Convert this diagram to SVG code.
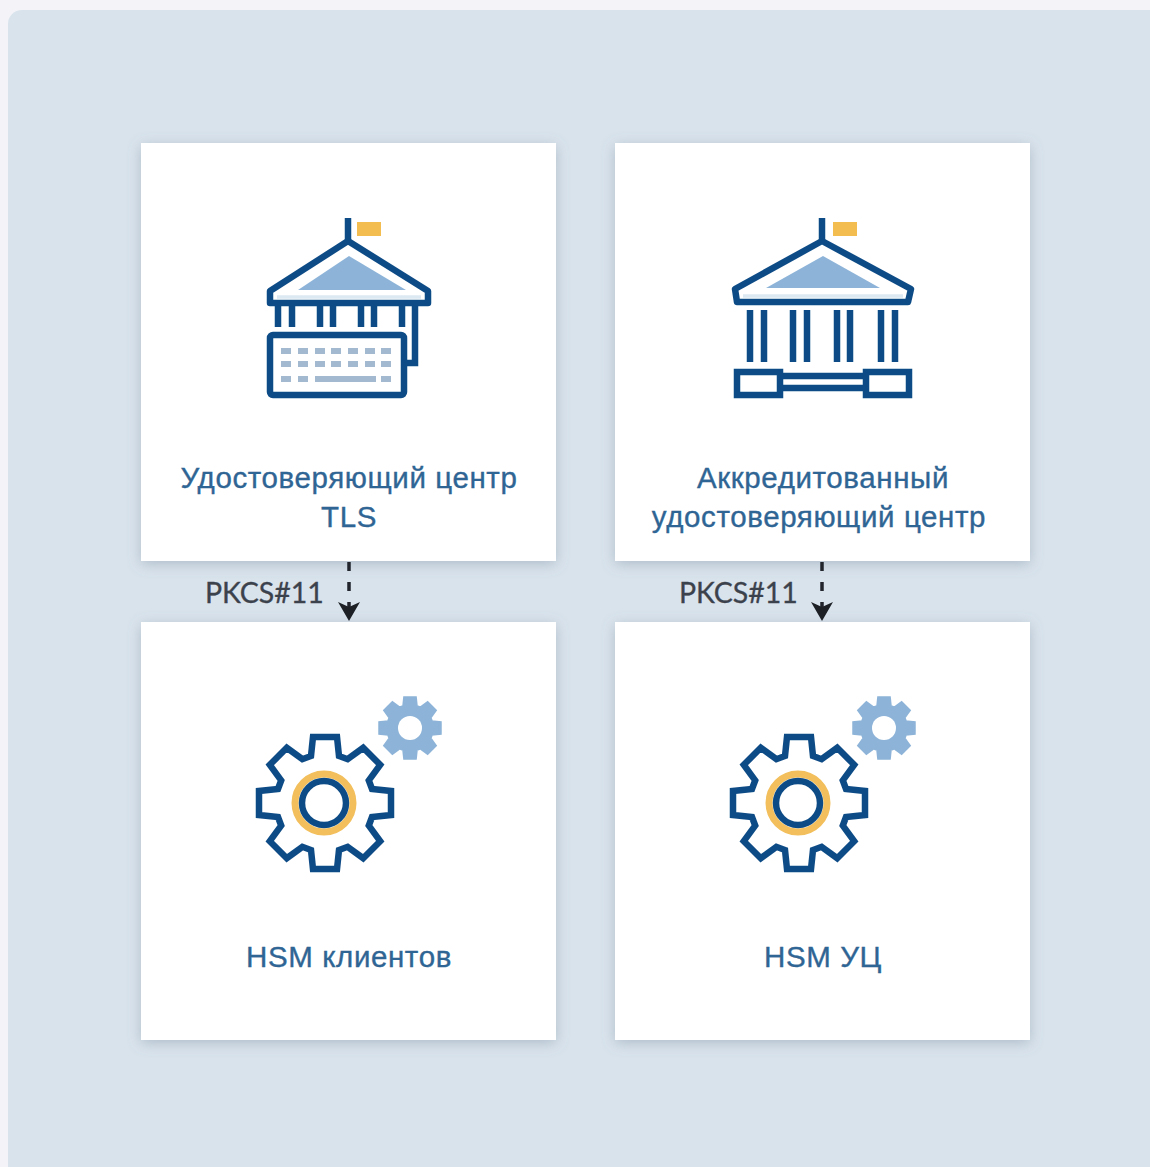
<svg xmlns="http://www.w3.org/2000/svg" width="1150" height="1167" viewBox="0 0 1150 1167">
<style>
.card{fill:#fff;filter:url(#shadow)}
.ln{fill:none;stroke:#0f4c86;stroke-width:6.500}
.lt{fill:#8db4d8}
.fl{fill:#f4bd50}
.key{fill:#a3b9cf}
.lbl{font-family:"Liberation Sans",Arial,sans-serif;font-size:29.500px;fill:#2f6594;stroke:#2f6594;stroke-width:.35px;text-anchor:middle;letter-spacing:.6px}
.pk{font-family:Lato,"Liberation Sans",sans-serif;font-size:28.500px;fill:#3c424c;stroke:#3c424c;stroke-width:.3px}
.conn{fill:none;stroke:#22262c;stroke-width:3.500;stroke-dasharray:9 11}
</style>
<defs>
<filter id="shadow" x="-10%" y="-10%" width="120%" height="120%"><feDropShadow dx="0" dy="3" stdDeviation="7" flood-color="#6d8296" flood-opacity=".4"/></filter>
<filter id="soft" x="-5%" y="-5%" width="110%" height="110%"><feGaussianBlur stdDeviation=".7"/></filter>
<marker id="ah" markerUnits="userSpaceOnUse" markerWidth="22" markerHeight="26" refX="20" refY="12" orient="auto" viewBox="0 0 22 24"><path d="M2 1 7 12 2 23 21 12Z" fill="#1d2126"/></marker>
<path id="gear" d="M-12-66 12-66 14-47 22.600-43.800 38.200-55.200 55.200-38.200 43.800-22.600 47-14 66-12 66 12 47 14 43.800 22.600 55.200 38.200 38.200 55.200 22.600 43.800 14 47 12 66-12 66-14 47-22.600 43.800-38.200 55.200-55.200 38.200-43.800 22.600-47 14-66 12-66-12-47-14-43.800-22.600-55.200-38.200-38.200-55.200-22.600-43.800-14-47Z"/>
<g id="gears" filter="url(#soft)">
<use href="#gear" class="ln" x="325" y="803"/>
<circle cx="324" cy="803" r="29" fill="none" stroke="#f2bf5b" stroke-width="7"/>
<circle cx="324" cy="803" r="22" fill="#fff" stroke="#0f4c86" stroke-width="6.500"/>
<g transform="translate(410 728) scale(.46)"><use href="#gear" class="lt" stroke="#8db4d8" stroke-width="6"/></g>
<circle cx="410" cy="728" r="12" fill="#fff"/>
</g>
</defs>
<rect width="1150" height="1167" fill="#f4f4f8"/>
<rect x="8" y="10" width="1162" height="1177" rx="14" fill="#d9e3ec"/>

<g id="node-ca-tls">
<rect class="card" x="141" y="143" width="415" height="418"/>
<g filter="url(#soft)">
<rect class="fl" x="357" y="222" width="24" height="14"/>
<path class="ln" d="M348 218V242"/>
<path class="lt" d="M349 256 406 290H298Z"/>
<path class="ln" d="M348 241 270 291V303H428V291Z" stroke-linejoin="round"/>
<path d="M277 297H421" stroke="#dce8f2" stroke-width="3.500" fill="none"/>
<path class="ln" d="M278 305V327M292 305V327M320 305V327M333 305V327M361 305V327M374 305V327M402 305V327"/>
<path class="ln" d="M415 305V363H405"/>
<rect class="ln" x="270" y="335" width="134" height="60" rx="3"/>
<path class="key" d="M281 348h10v6h-10zM298 348h10v6h-10zM315 348h10v6h-10zM331 348h10v6h-10zM348 348h10v6h-10zM365 348h10v6h-10zM381 348h10v6h-10zM281 361h10v6h-10zM298 361h10v6h-10zM315 361h10v6h-10zM331 361h10v6h-10zM348 361h10v6h-10zM365 361h10v6h-10zM381 361h10v6h-10zM281 376h10v6h-10zM298 376h10v6h-10zM315 376h61v6h-61zM381 376h10v6h-10z"/>
</g>
<text class="lbl" x="349" y="488">Удостоверяющий центр</text>
<text class="lbl" x="349" y="527">TLS</text>
</g>

<g id="node-ca-accredited">
<rect class="card" x="615" y="143" width="415" height="418"/>
<g filter="url(#soft)">
<rect class="fl" x="833" y="222" width="24" height="14"/>
<path class="ln" d="M822 218V242"/>
<path class="lt" d="M823 256 880 288H766Z"/>
<path class="ln" d="M822 241 735 289 737 302H908L911 289Z" stroke-linejoin="round"/>
<path d="M743 296H903" stroke="#dce8f2" stroke-width="3.500" fill="none"/>
<path class="ln" d="M750 310V362M764 310V362M793 310V362M807 310V362M837 310V362M850 310V362M881 310V362M895 310V362"/>
<rect class="ln" x="737" y="372" width="43" height="23"/>
<rect class="ln" x="866" y="372" width="43" height="23"/>
<path class="ln" d="M780 376H866M780 388H866"/>
</g>
<text class="lbl" x="823" y="488">Аккредитованный</text>
<text class="lbl" x="819" y="527">удостоверяющий центр</text>
</g>

<g id="node-hsm-clients">
<rect class="card" x="141" y="622" width="415" height="418"/>
<use href="#gears"/>
<text class="lbl" x="349" y="967">HSM клиентов</text>
</g>

<g id="node-hsm-ca">
<rect class="card" x="615" y="622" width="415" height="418"/>
<use href="#gears" x="474"/>
<text class="lbl" x="823" y="967">HSM УЦ</text>
</g>

<g id="connectors">
<path class="conn" d="M349 562V620" marker-end="url(#ah)"/>
<path class="conn" d="M822 562V620" marker-end="url(#ah)"/>
</g>
<text class="pk" x="205" y="603">PKCS#11</text>
<text class="pk" x="679" y="603">PKCS#11</text>
</svg>
